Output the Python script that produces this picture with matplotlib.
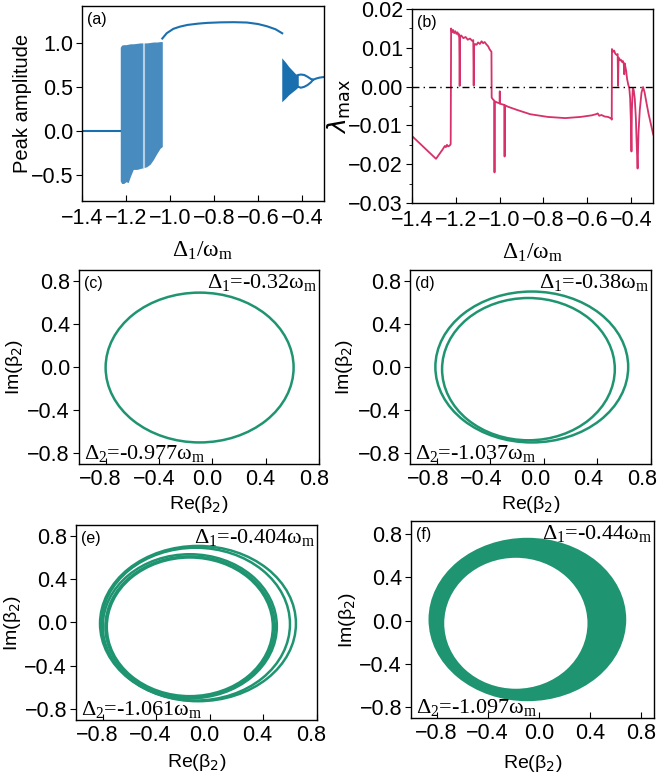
import matplotlib
matplotlib.use("Agg")
import matplotlib.pyplot as plt
from matplotlib.patches import Ellipse
from matplotlib.transforms import ScaledTranslation

plt.rcParams["font.family"] = ["Liberation Sans", "DejaVu Sans"]
plt.rcParams["mathtext.fontset"] = "dejavusans"
plt.rcParams["mathtext.rm"] = "Liberation Serif"
plt.rcParams["mathtext.it"] = "Liberation Serif:italic"
plt.rcParams["mathtext.sf"] = "Liberation Sans"
plt.rcParams["axes.linewidth"] = 1.0

BLUE = "#1a6faf"
RED = "#d7306a"
GREEN = "#1f9470"

# (a) bifurcation diagram
a_zero_x = [-1.40, -1.225]
a_zero_y = [0.0, 0.0]
a_chaos_x = [-1.226, -1.22, -1.21, -1.20, -1.19, -1.18, -1.167, -1.15, -1.136,
             -1.12, -1.106, -1.09, -1.076, -1.06, -1.045, -1.035]
a_chaos_hi = [0.95, 0.975, 0.98, 0.98, 0.985, 0.99, 0.99, 0.995, 1.0,
              1.0, 1.0, 1.005, 1.01, 1.01, 1.015, 1.015]
a_chaos_lo = [-0.57, -0.60, -0.60, -0.58, -0.59, -0.52, -0.44, -0.44, -0.43,
              -0.42, -0.41, -0.38, -0.33, -0.26, -0.20, -0.18]
a_gap_x = [-1.116]
a_gap_lo = [-0.42]
a_gap_hi = [1.0]
a_branch_x = [-1.035, -1.015, -0.985, -0.955, -0.92, -0.87, -0.83, -0.77,
              -0.71, -0.65, -0.60, -0.56, -0.52, -0.49]
a_branch_y = [1.05, 1.11, 1.16, 1.185, 1.205, 1.22, 1.228, 1.234,
              1.236, 1.232, 1.215, 1.19, 1.155, 1.11]
a_tri_x = [-0.492, -0.475, -0.46, -0.445, -0.43, -0.417]
a_tri_hi = [0.83, 0.78, 0.73, 0.69, 0.65, 0.635]
a_tri_lo = [0.33, 0.37, 0.41, 0.44, 0.47, 0.50]
a_fork_x = [-0.417, -0.405, -0.39, -0.375, -0.36, -0.35]
a_fork_hi = [0.635, 0.64, 0.635, 0.615, 0.59, 0.58]
a_fork_lo = [0.50, 0.49, 0.50, 0.52, 0.55, 0.58]
a_tail_x = [-0.35, -0.335, -0.32, -0.30]
a_tail_y = [0.58, 0.595, 0.605, 0.612]

# (b) largest Lyapunov exponent
lam_x = [-1.400, -1.290, -1.260, -1.250, -1.245, -1.240, -1.235, -1.228, -1.223,
         -1.221, -1.217, -1.212, -1.207, -1.202, -1.197, -1.192, -1.187, -1.184,
         -1.182, -1.180, -1.175, -1.165, -1.155, -1.145, -1.135, -1.125, -1.120,
         -1.118, -1.116, -1.112, -1.105, -1.098, -1.090, -1.082, -1.075, -1.068,
         -1.060, -1.052, -1.046, -1.040, -1.037, -1.036, -1.030, -1.024, -1.023,
         -1.022, -1.010, -1.000, -0.999, -0.998, -0.985, -0.978, -0.977, -0.976,
         -0.960, -0.920, -0.860, -0.780, -0.700, -0.630, -0.580, -0.560, -0.552,
         -0.545, -0.535, -0.520, -0.505, -0.490, -0.488, -0.487, -0.482, -0.477,
         -0.472, -0.466, -0.461, -0.459, -0.457, -0.452, -0.447, -0.442, -0.437,
         -0.433, -0.431, -0.429, -0.426, -0.422, -0.418, -0.413, -0.408, -0.404,
         -0.400, -0.398, -0.396, -0.392, -0.388, -0.383, -0.378, -0.374, -0.370,
         -0.366, -0.360, -0.352, -0.345, -0.338, -0.330, -0.320, -0.310, -0.300,
         -0.293]
lam_y = [-0.0127, -0.0186, -0.0162, -0.0153, -0.0156, -0.0150, -0.0154, -0.0152, -0.0148,
         0.0150, 0.0140, 0.0146, 0.0138, 0.0143, 0.0136, 0.0140, 0.0132, 0.0135,
         0.0002, 0.0128, 0.0132, 0.0125, 0.0128, 0.0121, 0.0124, 0.0118, 0.0120,
         0.0003, 0.0105, 0.0110, 0.0108, 0.0114, 0.0110, 0.0117, 0.0112, 0.0115,
         0.0109, 0.0104, 0.0097, 0.0092, 0.0090, -0.0028, -0.0033, -0.0036, -0.0221,
         -0.0038, -0.0041, -0.0043, -0.0012, -0.0044, -0.0046, -0.0047, -0.0180, -0.0048,
         -0.0052, -0.0060, -0.0071, -0.0078, -0.0081, -0.0078, -0.0074, -0.0071, -0.0069,
         -0.0075, -0.0073, -0.0077, -0.0078, -0.0082, -0.0085, 0.0097, 0.0090, 0.0093,
         0.0085, 0.0082, 0.0084, 0.0002, 0.0075, 0.0068, 0.0070, 0.0064, 0.0066,
         0.0058, 0.0032, 0.0060, 0.0052, 0.0040, 0.0020, 0.0006, -0.0004, -0.0030,
         -0.0100, -0.0167, -0.0060, -0.0005, -0.0008, -0.0030, -0.0080, -0.0150, -0.0211,
         -0.0120, -0.0060, -0.0015, -0.0001, -0.0015, -0.0040, -0.0070, -0.0095, -0.0120,
         -0.0133]

# (c)-(f) phase portraits: loop centres and full widths/heights
c_cx, c_cy, c_w, c_h = [-0.095], [-0.005], [1.41], [1.39]
d_cx, d_cy, d_w, d_h = [-0.09, -0.115], [0.0, -0.02], [1.44, 1.29], [1.40, 1.32]
e_cx = [-0.089, -0.106, -0.15, -0.148, -0.15]
e_cy = [-0.01, -0.015, -0.035, -0.04, -0.04]
e_w = [1.463, 1.408, 1.30, 1.265, 1.24]
e_h = [1.433, 1.41, 1.33, 1.30, 1.28]
f_outer = (-0.09, 0.01, 1.546, 1.51)
f_hole = (-0.18, -0.025, 1.12, 1.21)

panel_labels = ["(c)", "(d)", "(e)", "(f)"]
delta1_text = ["-0.32", "-0.38", "-0.404", "-0.44"]
delta2_text = ["-0.977", "-1.037", "-1.061", "-1.097"]

fig = plt.figure(figsize=(6.58, 7.81), dpi=100)

TICK = 15.5
LAB = 14
SERIF = dict(family="Liberation Serif", math_fontfamily="custom")


def style(ax):
    ax.tick_params(axis="x", direction="in", labelsize=TICK, length=4, pad=5)
    ax.tick_params(axis="y", direction="out", labelsize=TICK, length=4, pad=2.5)
    ax.tick_params(which="minor", axis="y", direction="out", length=2.5)


# ---- (a)
ax = fig.add_axes([0.1246, 0.7426, 0.3678, 0.2497])
ax.plot(a_zero_x, a_zero_y, color=BLUE, lw=1.5)
ax.fill_between(a_chaos_x, a_chaos_lo, a_chaos_hi, color=BLUE, alpha=0.8, lw=0)
ax.vlines(a_gap_x, a_gap_lo, a_gap_hi, color="white", alpha=0.6, lw=1.5)
ax.plot(a_branch_x, a_branch_y, color=BLUE, lw=1.5)
ax.fill_between(a_tri_x, a_tri_lo, a_tri_hi, color=BLUE, lw=0)
ax.plot(a_fork_x, a_fork_hi, color=BLUE, lw=1.5)
ax.plot(a_fork_x, a_fork_lo, color=BLUE, lw=1.5)
ax.plot(a_tail_x, a_tail_y, color=BLUE, lw=1.5)
ax.set_xlim(-1.4, -0.3)
ax.set_ylim(-0.8, 1.42)
ax.set_xticks([-1.4, -1.2, -1.0, -0.8, -0.6, -0.4])
ax.set_yticks([-0.5, 0.0, 0.5, 1.0])
style(ax)
ax.set_ylabel("Peak amplitude", fontsize=14.5)
ax.set_xlabel(r"Δ$_1$/ω$_\mathrm{m}$", fontsize=17, **SERIF)
ax.yaxis.set_label_coords(-0.207, 0.5)
ax.xaxis.set_label_coords(0.5, -0.2)
ax.text(0.02, 0.97, "(a)", transform=ax.transAxes, fontsize=11.5, va="top")

# ---- (b)
ax = fig.add_axes([0.626, 0.740, 0.3663, 0.2484])
ax.plot(lam_x, lam_y, color=RED, lw=1.3)
ax.axhline(0, color="k", lw=1, ls=(0, (5, 3, 1, 3)))
ax.set_xlim(-1.4, -0.3)
ax.set_ylim(-0.03, 0.02)
ax.set_xticks([-1.4, -1.2, -1.0, -0.8, -0.6, -0.4])
ax.set_yticks([-0.03, -0.02, -0.01, 0.0, 0.01, 0.02])
ax.set_yticks([-0.025, -0.015, -0.005, 0.005, 0.015], minor=True)
style(ax)
ax.set_ylabel(r"$\lambda_{\mathrm{max}}$", fontsize=18)
ax.set_xlabel(r"Δ$_1$/ω$_\mathrm{m}$", fontsize=17, **SERIF)
ax.yaxis.set_label_coords(-0.245, 0.5)
ax.xaxis.set_label_coords(0.5, -0.2)
ax.text(0.02, 0.97, "(b)", transform=ax.transAxes, fontsize=11.5, va="top")

# ---- (c)-(f)
rects = [
    [0.120, 0.4059, 0.3647, 0.2484],
    [0.623, 0.4059, 0.3663, 0.2484],
    [0.1155, 0.0781, 0.3663, 0.2497],
    [0.6246, 0.0807, 0.3693, 0.2522],
]
xlims = [(-1.0, 0.8), (-1.0, 0.8), (-1.0, 0.8), (-1.0, 0.9)]
ylims = [(-0.9, 0.9), (-0.9, 0.9), (-0.9, 0.9), (-0.9, 0.92)]
ylab_x = [-0.225, -0.228, -0.22, -0.218]
xlab_y = [-0.155, -0.155, -0.165, -0.18]
xshift = [-5, -9, -6, 0]
loops = [
    (c_cx, c_cy, c_w, c_h),
    (d_cx, d_cy, d_w, d_h),
    (e_cx, e_cy, e_w, e_h),
]

for i in range(4):
    ax = fig.add_axes(rects[i])
    if i < 3:
        cx, cy, w, h = loops[i]
        for k in range(len(cx)):
            ax.add_patch(Ellipse((cx[k], cy[k]), w[k], h[k], fill=False,
                                 edgecolor=GREEN, lw=1.8))
    else:
        ax.add_patch(Ellipse(f_outer[:2], f_outer[2], f_outer[3],
                             facecolor=GREEN, edgecolor="none"))
        ax.add_patch(Ellipse(f_hole[:2], f_hole[2], f_hole[3],
                             facecolor="white", edgecolor="none"))
    ax.set_xlim(*xlims[i])
    ax.set_ylim(*ylims[i])
    ax.set_xticks([-0.8, -0.4, 0.0, 0.4, 0.8])
    ax.set_yticks([-0.8, -0.4, 0.0, 0.4, 0.8])
    style(ax)
    ax.tick_params(axis="x", pad=3.5)
    shift = ScaledTranslation(xshift[i] / 100, 0, fig.dpi_scale_trans)
    for lbl in ax.get_xticklabels():
        lbl.set_transform(lbl.get_transform() + shift)
    ax.set_xlabel(r"Re(β$_2$)", fontsize=LAB)
    ax.set_ylabel(r"Im(β$_2$)", fontsize=LAB)
    ax.yaxis.set_label_coords(ylab_x[i], 0.5)
    ax.xaxis.set_label_coords(0.5, xlab_y[i])
    ax.text(0.02, 0.97, panel_labels[i], transform=ax.transAxes, fontsize=11.5, va="top")
    ax.text(0.995, 0.99, "Δ$_1$=" + delta1_text[i] + "ω$_\\mathrm{m}$",
            transform=ax.transAxes, ha="right", va="top", fontsize=16, **SERIF)
    ax.text(0.02, 0.0, "Δ$_2$=" + delta2_text[i] + "ω$_\\mathrm{m}$",
            transform=ax.transAxes, ha="left", va="bottom", fontsize=16, **SERIF)

fig.savefig("out.png", dpi=100)
